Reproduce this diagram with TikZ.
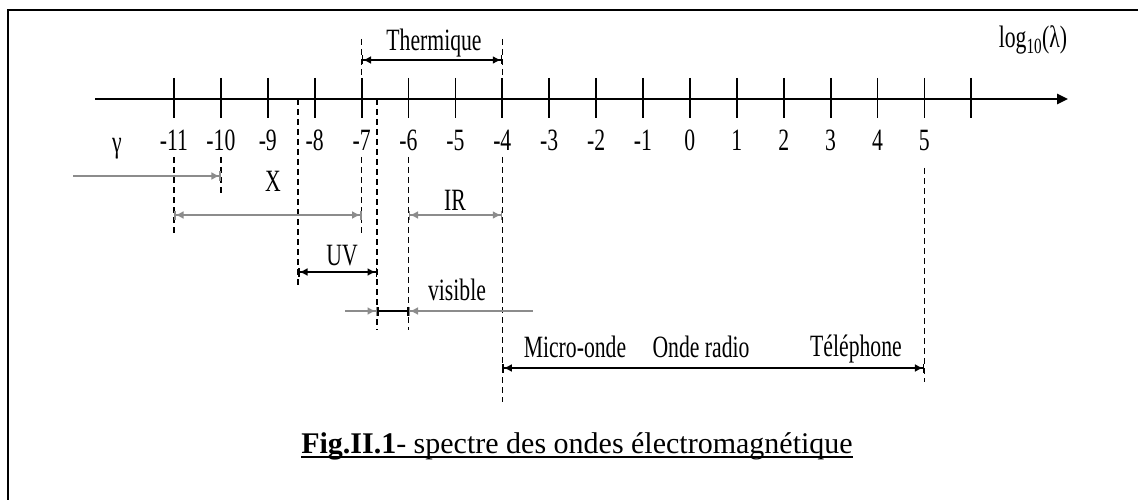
\documentclass[tikz,border=0pt]{standalone}
\usepackage{fontspec}
\setmainfont{Liberation Serif}
\newfontfamily\narrowserif[FakeStretch=0.7]{Liberation Serif}
\usetikzlibrary{arrows.meta}

\begin{document}
\begin{tikzpicture}[
    x=1pt, y=-1pt,
    lbl/.style={font=\narrowserif\fontsize{31}{33}\selectfont, inner sep=0pt, anchor=base},
    axisline/.style={line width=2.4pt, -{Triangle[length=11pt,width=10pt]}},
    tickline/.style={line width=1.8pt},
    dashline/.style={line width=1.6pt, dash pattern=on 6pt off 4pt},
    rng/.style={line width=2pt},
    grng/.style={line width=2.6pt, draw=gray!90},
    endtip/.style={-{Latex[length=8pt,width=8pt]Bar[width=9pt,line width=1.5pt]}},
    bothtip/.style={{Bar[width=9pt,line width=1.5pt]Latex[length=8pt,width=8pt]}-{Latex[length=8pt,width=8pt]Bar[width=9pt,line width=1.5pt]}},
    bartip/.style={{Bar[width=9pt,line width=1.5pt]}-{Bar[width=9pt,line width=1.5pt]}},
]
\useasboundingbox (0,0) rectangle (1138,500);
% Frame
\draw[line width=2.4pt] (8,500) -- (8,10) -- (1140,10);

% Axis
\coordinate (ax0) at (95,99);
\coordinate (ax1) at (1068,99);
\draw[axisline] (ax0) -- (ax1);
\foreach \n in {-11,...,6} {
  \pgfmathsetmacro\xx{174+(\n+11)*46.9}
  \coordinate (t\n) at (\xx,99);
}
\foreach \n in {-11,...,6}
  \draw[tickline] ([yshift=21pt]t\n) -- ([yshift=-19pt]t\n);
\foreach \n in {-11,...,5}
  \node[lbl] (n\n) at ([yshift=-52pt]t\n) {\n};
\node[lbl] (log) at (1033,48) {log\textsubscript{10}(λ)};

% Extra borders
\coordinate (uvL) at (298,99);
\coordinate (visL) at (377,99);

% Dashed guides
\draw[dashline] (t-7 |- 0,39) -- (t-7);
\draw[dashline] (t-4 |- 0,39) -- (t-4);
\draw[dashline] (t-11 |- 0,157) -- (t-11 |- 0,236);
\draw[dashline] (t-10 |- 0,157) -- (t-10 |- 0,194);
\draw[dashline] (uvL) -- (uvL |- 0,287);
\draw[dashline] (t-7 |- 0,157) -- (t-7 |- 0,236);
\draw[dashline] (visL) -- (visL |- 0,330);
\draw[dashline] (t-6 |- 0,157) -- (t-6 |- 0,330);
\draw[dashline] (t-4 |- 0,157) -- (t-4 |- 0,402);
\draw[dashline] (t5 |- 0,168) -- (t5 |- 0,382);

% Ranges
\draw[rng, bothtip] (t-7 |- 0,60) -- (t-4 |- 0,60);
\node[lbl] (therm) at (434,51) {Thermique};

\coordinate (gs) at (73,176);
\draw[grng, endtip] (gs) -- (t-10 |- gs);
\node[lbl] (gam) at (117,153) {γ};

\draw[grng, bothtip] (t-11 |- 0,215) -- (t-7 |- 0,215);
\node[lbl] (xr) at (273,191) {X};

\draw[grng, bothtip] (t-6 |- 0,215) -- (t-4 |- 0,215);
\node[lbl] (ir) at (455,210) {IR};

\draw[rng, bothtip] (uvL |- 0,272) -- (visL |- 0,272);
\node[lbl] (uv) at (342,265) {UV};

\coordinate (vs) at (345,311);
\coordinate (ve) at (533,311);
\draw[grng, endtip] (vs) -- (visL |- vs);
\draw[rng, bartip] (visL |- vs) -- (t-6 |- vs);
\draw[grng, {Bar[width=9pt,line width=1.5pt]Latex[length=8pt,width=8pt]}-] (t-6 |- ve) -- (ve);
\node[lbl] (vis) at (457,300) {visible};

\draw[rng, bothtip] (t-4 |- 0,368) -- (t5 |- 0,368);
\node[lbl] (micro) at (575,357) {Micro-onde};
\node[lbl] (radio) at (701,357) {Onde radio};
\node[lbl] (tel) at (856,356) {Téléphone};

% Caption
\node[font=\fontsize{30}{32}\selectfont, inner sep=0pt, anchor=base] (cap) at (577,453)
  {\textbf{Fig.II.1}- spectre des ondes électromagnétique};
\draw[line width=1.8pt] ([yshift=-4pt]cap.base west) -- ([yshift=-4pt]cap.base east);
\end{tikzpicture}
\end{document}
